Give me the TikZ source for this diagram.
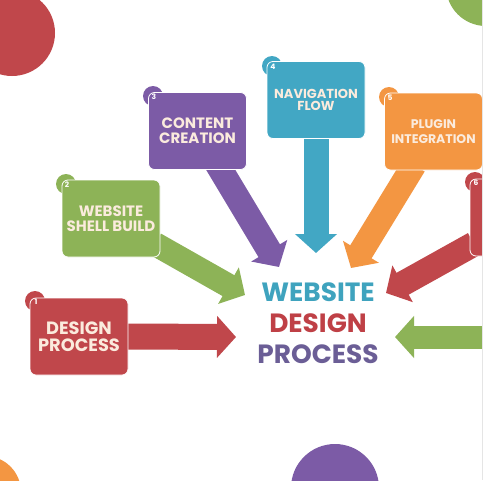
\documentclass[tikz,border=0pt]{standalone}
\usepackage{fontspec}
\setmainfont{Poppins}
\usetikzlibrary{arrows.meta}
\pgfdeclarelayer{paper}
\pgfdeclarelayer{bg}
\pgfsetlayers{paper,bg,main}
\definecolor{cred}{HTML}{C0474B}
\definecolor{cgreen}{HTML}{8DB357}
\definecolor{cpurple}{HTML}{7C5BA6}
\definecolor{cteal}{HTML}{42A7C4}
\definecolor{corange}{HTML}{F39642}
\definecolor{ccream}{HTML}{FBEBDD}
\definecolor{tteal}{HTML}{3FA3BE}
\definecolor{tred}{HTML}{BF4046}
\definecolor{tslate}{HTML}{6B5E96}
\tikzset{
  box/.style={rounded corners=6pt, draw=white, line width=0.8pt, minimum width=98pt, minimum height=77pt, inner sep=0pt, align=center, text=ccream, font=\bfseries},
  badge/.style={circle, minimum size=20pt, inner sep=0pt, text=white, font=\fontsize{7.5}{7.5}\selectfont\bfseries},
  bigarrow/.style={line width=25pt, -{Triangle[length=19pt,width=41pt]}}
}
\begin{document}
\begin{tikzpicture}[x=1pt,y=-1pt]
\useasboundingbox (0,0) rectangle (484,480);
\begin{pgfonlayer}{paper}
\fill[white] (0,0) rectangle (484,480);
\end{pgfonlayer}
\begin{scope}
\clip (0,0) rectangle (482,480);
% decorative circles
\fill[cred] (12,33) circle (43);
\fill[cgreen] (486,-14) circle (40);
\fill[corange] (-15,492) circle (36);
\fill[cpurple] (335,488) circle (44);
% badges (under boxes, poking out at the corner)
\node[badge, fill=cred] (n1) at (35,301) {};
\node[badge, fill=cgreen] (n2) at (66,184) {};
\node[badge, fill=cpurple] (n3) at (153,96) {};
\node[badge, fill=cteal] (n4) at (272,66) {};
\node[badge, fill=corange] (n5) at (389,97) {};
\node[badge, fill=cred] (n6) at (475,182) {};
% boxes
\node[box, fill=cred, font=\fontsize{17.8}{17}\selectfont\bfseries] (b1) at (79,336.5) {DESIGN\\PROCESS};
\node[box, fill=cgreen, font=\fontsize{15}{15}\selectfont\bfseries] (b2) at (111,218.5) {WEBSITE\\SHELL BUILD};
\node[box, fill=cpurple, font=\fontsize{15}{15}\selectfont\bfseries] (b3) at (197.5,131) {CONTENT\\CREATION};
\node[box, fill=cteal, font=\fontsize{13}{12.5}\selectfont\bfseries] (b4) at (316,100) {NAVIGATION\\FLOW};
\node[box, fill=corange, font=\fontsize{12.5}{15}\selectfont\bfseries] (b5) at (433.5,131.5) {PLUGIN\\INTEGRATION};
\node[box, fill=cred] (b6) at (519,217.5) {};
% badge numbers
\node[badge] at ([xshift=1pt,yshift=-1pt]n1.center) {1};
\node[badge] at ([xshift=1pt,yshift=-1pt]n2.center) {2};
\node[badge] at ([xshift=1pt,yshift=-1pt]n3.center) {3};
\node[badge] at ([xshift=1pt,yshift=-1pt]n4.center) {4};
\node[badge] at ([xshift=1pt,yshift=-1pt]n5.center) {5};
\node[badge] at ([xshift=1pt,yshift=-1pt]n6.center) {6};
% centre title
\node[align=center, inner sep=0pt, font=\fontsize{26.4}{31}\selectfont\bfseries] (title) at (318,323)
  {\textcolor{tteal}{WEBSITE}\\\textcolor{tred}{DESIGN}\\\textcolor{tslate}{PROCESS}};
% arrow end points
\coordinate (s2) at (155,244);
\coordinate (s3) at (216,162);
\coordinate (s5) at (414,165);
\coordinate (s6) at (474,244);
\coordinate (s7) at (490,337);
\coordinate (t1) at (236,337);
\coordinate (t2) at (245,295);
\coordinate (t3) at (279,267);
\coordinate (t4) at (316,253);
\coordinate (t5) at (351,268);
\coordinate (t6) at (386,293);
\coordinate (t7) at (395,337);
% arrows (behind boxes)
\begin{pgfonlayer}{bg}
\clip (0,0) rectangle (482,480);
\draw[bigarrow, cred, line width=26pt] ([xshift=-4pt]b1.east) -- (t1);
\draw[bigarrow, cgreen, line width=24pt] (s2) -- (t2);
\draw[bigarrow, cpurple] (s3) -- (t3);
\draw[bigarrow, cteal] ([yshift=4pt]b4.south) -- (t4);
\draw[bigarrow, corange] (s5) -- (t5);
\draw[bigarrow, cred] (s6) -- (t6);
\draw[bigarrow, cgreen, line width=23pt] (s7) -- (t7);
\end{pgfonlayer}
\end{scope}
\draw[black!10, line width=1pt] (482.5,0) -- (482.5,480);
\end{tikzpicture}
\end{document}
